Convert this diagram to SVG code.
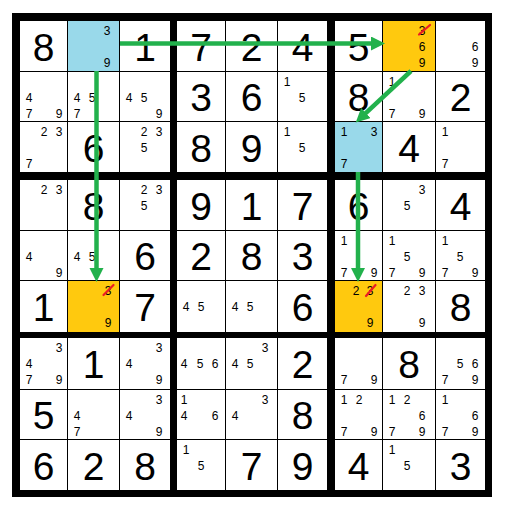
<svg xmlns="http://www.w3.org/2000/svg" width="506" height="505" viewBox="0 0 506 505">
<style>
.w{fill:#fff}.b{fill:#99D9EA}.o{fill:#FFC90E}
text{font-family:"Liberation Sans",Arial,sans-serif;fill:#000;text-anchor:middle}
.g{font-size:39px}.c{font-size:12px}
.x{stroke:#ED1C24;stroke-width:2.2;stroke-linecap:round}
.a{stroke:#22B14C;stroke-width:4.5;fill:none}
</style>
<defs>
<marker id="ah" markerUnits="userSpaceOnUse" markerWidth="15" markerHeight="15" refX="1" refY="7" orient="auto"><path d="M0,0 L14,7 L0,14 z" fill="#22B14C"/></marker>
</defs>
<rect width="506" height="505" fill="#fff"/>
<rect x="12" y="13" width="480" height="484" fill="#000"/>
<g id="r0c0"><rect class="w" x="20" y="21" width="47" height="50"/><text class="g" x="43.5" y="60.5">8</text></g>
<g id="r0c1"><rect class="b" x="68" y="21" width="51" height="50"/><text class="c" x="107" y="34.5">3</text><text class="c" x="107" y="66.5">9</text></g>
<g id="r0c2"><rect class="w" x="120" y="21" width="50" height="50"/><text class="g" x="145" y="60.5">1</text></g>
<g id="r0c3"><rect class="w" x="177" y="21" width="48" height="50"/><text class="g" x="201" y="60.5">7</text></g>
<g id="r0c4"><rect class="w" x="226" y="21" width="51" height="50"/><text class="g" x="251.5" y="60.5">2</text></g>
<g id="r0c5"><rect class="w" x="278" y="21" width="49" height="50"/><text class="g" x="302.5" y="60.5">4</text></g>
<g id="r0c6"><rect class="w" x="335" y="21" width="47" height="50"/><text class="g" x="358.5" y="60.5">5</text></g>
<g id="r0c7"><rect class="o" x="383" y="21" width="52" height="50"/><text class="c" x="422" y="34.5">3</text><line class="x" x1="419" y1="34.5" x2="430" y2="25"/><text class="c" x="422" y="51">6</text><text class="c" x="422" y="66.5">9</text></g>
<g id="r0c8"><rect class="w" x="436" y="21" width="49" height="50"/><text class="c" x="475" y="51">6</text><text class="c" x="475" y="66.5">9</text></g>

<g id="r1c0"><rect class="w" x="20" y="72" width="47" height="49"/><text class="c" x="29" y="102">4</text><text class="c" x="29" y="117.5">7</text><text class="c" x="59" y="117.5">9</text></g>
<g id="r1c1"><rect class="w" x="68" y="72" width="51" height="49"/><text class="c" x="77" y="102">4</text><text class="c" x="92" y="102">5</text><text class="c" x="77" y="117.5">7</text></g>
<g id="r1c2"><rect class="w" x="120" y="72" width="50" height="49"/><text class="c" x="129" y="102">4</text><text class="c" x="144" y="102">5</text><text class="c" x="159" y="117.5">9</text></g>
<g id="r1c3"><rect class="w" x="177" y="72" width="48" height="49"/><text class="g" x="201" y="111">3</text></g>
<g id="r1c4"><rect class="w" x="226" y="72" width="51" height="49"/><text class="g" x="251.5" y="111">6</text></g>
<g id="r1c5"><rect class="w" x="278" y="72" width="49" height="49"/><text class="c" x="287" y="85.5">1</text><text class="c" x="302" y="102">5</text></g>
<g id="r1c6"><rect class="w" x="335" y="72" width="47" height="49"/><text class="g" x="358.5" y="111">8</text></g>
<g id="r1c7"><rect class="w" x="383" y="72" width="52" height="49"/><text class="c" x="392" y="85.5">1</text><text class="c" x="392" y="117.5">7</text><text class="c" x="422" y="117.5">9</text></g>
<g id="r1c8"><rect class="w" x="436" y="72" width="49" height="49"/><text class="g" x="460.5" y="111">2</text></g>

<g id="r2c0"><rect class="w" x="20" y="122" width="47" height="50"/><text class="c" x="44" y="135.5">2</text><text class="c" x="59" y="135.5">3</text><text class="c" x="29" y="167.5">7</text></g>
<g id="r2c1"><rect class="w" x="68" y="122" width="51" height="50"/><text class="g" x="93.5" y="161.5">6</text></g>
<g id="r2c2"><rect class="w" x="120" y="122" width="50" height="50"/><text class="c" x="144" y="135.5">2</text><text class="c" x="159" y="135.5">3</text><text class="c" x="144" y="152">5</text></g>
<g id="r2c3"><rect class="w" x="177" y="122" width="48" height="50"/><text class="g" x="201" y="161.5">8</text></g>
<g id="r2c4"><rect class="w" x="226" y="122" width="51" height="50"/><text class="g" x="251.5" y="161.5">9</text></g>
<g id="r2c5"><rect class="w" x="278" y="122" width="49" height="50"/><text class="c" x="287" y="135.5">1</text><text class="c" x="302" y="152">5</text></g>
<g id="r2c6"><rect class="b" x="335" y="122" width="47" height="50"/><text class="c" x="344" y="135.5">1</text><text class="c" x="374" y="135.5">3</text><text class="c" x="344" y="167.5">7</text></g>
<g id="r2c7"><rect class="w" x="383" y="122" width="52" height="50"/><text class="g" x="409" y="161.5">4</text></g>
<g id="r2c8"><rect class="w" x="436" y="122" width="49" height="50"/><text class="c" x="445" y="135.5">1</text><text class="c" x="445" y="167.5">7</text></g>

<g id="r3c0"><rect class="w" x="20" y="180" width="47" height="50"/><text class="c" x="44" y="193.5">2</text><text class="c" x="59" y="193.5">3</text></g>
<g id="r3c1"><rect class="w" x="68" y="180" width="51" height="50"/><text class="g" x="93.5" y="219.5">8</text></g>
<g id="r3c2"><rect class="w" x="120" y="180" width="50" height="50"/><text class="c" x="144" y="193.5">2</text><text class="c" x="159" y="193.5">3</text><text class="c" x="144" y="210">5</text></g>
<g id="r3c3"><rect class="w" x="177" y="180" width="48" height="50"/><text class="g" x="201" y="219.5">9</text></g>
<g id="r3c4"><rect class="w" x="226" y="180" width="51" height="50"/><text class="g" x="251.5" y="219.5">1</text></g>
<g id="r3c5"><rect class="w" x="278" y="180" width="49" height="50"/><text class="g" x="302.5" y="219.5">7</text></g>
<g id="r3c6"><rect class="w" x="335" y="180" width="47" height="50"/><text class="g" x="358.5" y="219.5">6</text></g>
<g id="r3c7"><rect class="w" x="383" y="180" width="52" height="50"/><text class="c" x="422" y="193.5">3</text><text class="c" x="407" y="210">5</text></g>
<g id="r3c8"><rect class="w" x="436" y="180" width="49" height="50"/><text class="g" x="460.5" y="219.5">4</text></g>

<g id="r4c0"><rect class="w" x="20" y="231" width="47" height="49"/><text class="c" x="29" y="261">4</text><text class="c" x="59" y="276.5">9</text></g>
<g id="r4c1"><rect class="w" x="68" y="231" width="51" height="49"/><text class="c" x="77" y="261">4</text><text class="c" x="92" y="261">5</text></g>
<g id="r4c2"><rect class="w" x="120" y="231" width="50" height="49"/><text class="g" x="145" y="270">6</text></g>
<g id="r4c3"><rect class="w" x="177" y="231" width="48" height="49"/><text class="g" x="201" y="270">2</text></g>
<g id="r4c4"><rect class="w" x="226" y="231" width="51" height="49"/><text class="g" x="251.5" y="270">8</text></g>
<g id="r4c5"><rect class="w" x="278" y="231" width="49" height="49"/><text class="g" x="302.5" y="270">3</text></g>
<g id="r4c6"><rect class="w" x="335" y="231" width="47" height="49"/><text class="c" x="344" y="244.5">1</text><text class="c" x="344" y="276.5">7</text><text class="c" x="374" y="276.5">9</text></g>
<g id="r4c7"><rect class="w" x="383" y="231" width="52" height="49"/><text class="c" x="392" y="244.5">1</text><text class="c" x="407" y="261">5</text><text class="c" x="392" y="276.5">7</text><text class="c" x="422" y="276.5">9</text></g>
<g id="r4c8"><rect class="w" x="436" y="231" width="49" height="49"/><text class="c" x="445" y="244.5">1</text><text class="c" x="460" y="261">5</text><text class="c" x="445" y="276.5">7</text><text class="c" x="475" y="276.5">9</text></g>

<g id="r5c0"><rect class="w" x="20" y="281" width="47" height="51"/><text class="g" x="43.5" y="321">1</text></g>
<g id="r5c1"><rect class="o" x="68" y="281" width="51" height="51"/><text class="c" x="108" y="294.5">3</text><line class="x" x1="103.5" y1="295" x2="113.5" y2="285"/><text class="c" x="108" y="326.5">9</text></g>
<g id="r5c2"><rect class="w" x="120" y="281" width="50" height="51"/><text class="g" x="145" y="321">7</text></g>
<g id="r5c3"><rect class="w" x="177" y="281" width="48" height="51"/><text class="c" x="186" y="311">4</text><text class="c" x="201" y="311">5</text></g>
<g id="r5c4"><rect class="w" x="226" y="281" width="51" height="51"/><text class="c" x="235" y="311">4</text><text class="c" x="250" y="311">5</text></g>
<g id="r5c5"><rect class="w" x="278" y="281" width="49" height="51"/><text class="g" x="302.5" y="321">6</text></g>
<g id="r5c6"><rect class="o" x="335" y="281" width="47" height="51"/><text class="c" x="356" y="294.5">2</text><text class="c" x="370" y="294.5">3</text><line class="x" x1="366" y1="296" x2="375.5" y2="285"/><text class="c" x="370" y="326.5">9</text></g>
<g id="r5c7"><rect class="w" x="383" y="281" width="52" height="51"/><text class="c" x="407" y="294.5">2</text><text class="c" x="422" y="294.5">3</text><text class="c" x="422" y="326.5">9</text></g>
<g id="r5c8"><rect class="w" x="436" y="281" width="49" height="51"/><text class="g" x="460.5" y="321">8</text></g>

<g id="r6c0"><rect class="w" x="20" y="338" width="47" height="51"/><text class="c" x="59" y="351.5">3</text><text class="c" x="29" y="368">4</text><text class="c" x="29" y="383.5">7</text><text class="c" x="59" y="383.5">9</text></g>
<g id="r6c1"><rect class="w" x="68" y="338" width="51" height="51"/><text class="g" x="93.5" y="378">1</text></g>
<g id="r6c2"><rect class="w" x="120" y="338" width="50" height="51"/><text class="c" x="159" y="351.5">3</text><text class="c" x="129" y="368">4</text><text class="c" x="159" y="383.5">9</text></g>
<g id="r6c3"><rect class="w" x="177" y="338" width="48" height="51"/><text class="c" x="184" y="368">4</text><text class="c" x="200" y="368">5</text><text class="c" x="215" y="368">6</text></g>
<g id="r6c4"><rect class="w" x="226" y="338" width="51" height="51"/><text class="c" x="265" y="351.5">3</text><text class="c" x="235" y="368">4</text><text class="c" x="250" y="368">5</text></g>
<g id="r6c5"><rect class="w" x="278" y="338" width="49" height="51"/><text class="g" x="302.5" y="378">2</text></g>
<g id="r6c6"><rect class="w" x="335" y="338" width="47" height="51"/><text class="c" x="344" y="383.5">7</text><text class="c" x="374" y="383.5">9</text></g>
<g id="r6c7"><rect class="w" x="383" y="338" width="52" height="51"/><text class="g" x="409" y="378">8</text></g>
<g id="r6c8"><rect class="w" x="436" y="338" width="49" height="51"/><text class="c" x="460" y="368">5</text><text class="c" x="475" y="368">6</text><text class="c" x="445" y="383.5">7</text><text class="c" x="475" y="383.5">9</text></g>

<g id="r7c0"><rect class="w" x="20" y="390" width="47" height="49"/><text class="g" x="43.5" y="429">5</text></g>
<g id="r7c1"><rect class="w" x="68" y="390" width="51" height="49"/><text class="c" x="77" y="420">4</text><text class="c" x="77" y="435.5">7</text></g>
<g id="r7c2"><rect class="w" x="120" y="390" width="50" height="49"/><text class="c" x="159" y="403.5">3</text><text class="c" x="129" y="420">4</text><text class="c" x="159" y="435.5">9</text></g>
<g id="r7c3"><rect class="w" x="177" y="390" width="48" height="49"/><text class="c" x="184" y="403.5">1</text><text class="c" x="184" y="420">4</text><text class="c" x="215" y="420">6</text></g>
<g id="r7c4"><rect class="w" x="226" y="390" width="51" height="49"/><text class="c" x="265" y="403.5">3</text><text class="c" x="235" y="420">4</text></g>
<g id="r7c5"><rect class="w" x="278" y="390" width="49" height="49"/><text class="g" x="302.5" y="429">8</text></g>
<g id="r7c6"><rect class="w" x="335" y="390" width="47" height="49"/><text class="c" x="344" y="403.5">1</text><text class="c" x="359" y="403.5">2</text><text class="c" x="344" y="435.5">7</text><text class="c" x="374" y="435.5">9</text></g>
<g id="r7c7"><rect class="w" x="383" y="390" width="52" height="49"/><text class="c" x="392" y="403.5">1</text><text class="c" x="407" y="403.5">2</text><text class="c" x="422" y="420">6</text><text class="c" x="392" y="435.5">7</text><text class="c" x="422" y="435.5">9</text></g>
<g id="r7c8"><rect class="w" x="436" y="390" width="49" height="49"/><text class="c" x="445" y="403.5">1</text><text class="c" x="475" y="420">6</text><text class="c" x="445" y="435.5">7</text><text class="c" x="475" y="435.5">9</text></g>

<g id="r8c0"><rect class="w" x="20" y="440" width="47" height="50"/><text class="g" x="43.5" y="479.5">6</text></g>
<g id="r8c1"><rect class="w" x="68" y="440" width="51" height="50"/><text class="g" x="93.5" y="479.5">2</text></g>
<g id="r8c2"><rect class="w" x="120" y="440" width="50" height="50"/><text class="g" x="145" y="479.5">8</text></g>
<g id="r8c3"><rect class="w" x="177" y="440" width="48" height="50"/><text class="c" x="186" y="453.5">1</text><text class="c" x="201" y="470">5</text></g>
<g id="r8c4"><rect class="w" x="226" y="440" width="51" height="50"/><text class="g" x="251.5" y="479.5">7</text></g>
<g id="r8c5"><rect class="w" x="278" y="440" width="49" height="50"/><text class="g" x="302.5" y="479.5">9</text></g>
<g id="r8c6"><rect class="w" x="335" y="440" width="47" height="50"/><text class="g" x="358.5" y="479.5">4</text></g>
<g id="r8c7"><rect class="w" x="383" y="440" width="52" height="50"/><text class="c" x="392" y="453.5">1</text><text class="c" x="407" y="470">5</text></g>
<g id="r8c8"><rect class="w" x="436" y="440" width="49" height="50"/><text class="g" x="460.5" y="479.5">3</text></g>

<g id="connectors">
<line class="a" x1="120" y1="43.5" x2="372" y2="43.5" marker-end="url(#ah)"/>
<line class="a" x1="96.5" y1="71" x2="96.5" y2="269" marker-end="url(#ah)"/>
<line class="a" x1="411" y1="71" x2="365.2" y2="113.7" marker-end="url(#ah)"/>
<line class="a" x1="358" y1="172" x2="358" y2="269" marker-end="url(#ah)"/>
</g>
</svg>
